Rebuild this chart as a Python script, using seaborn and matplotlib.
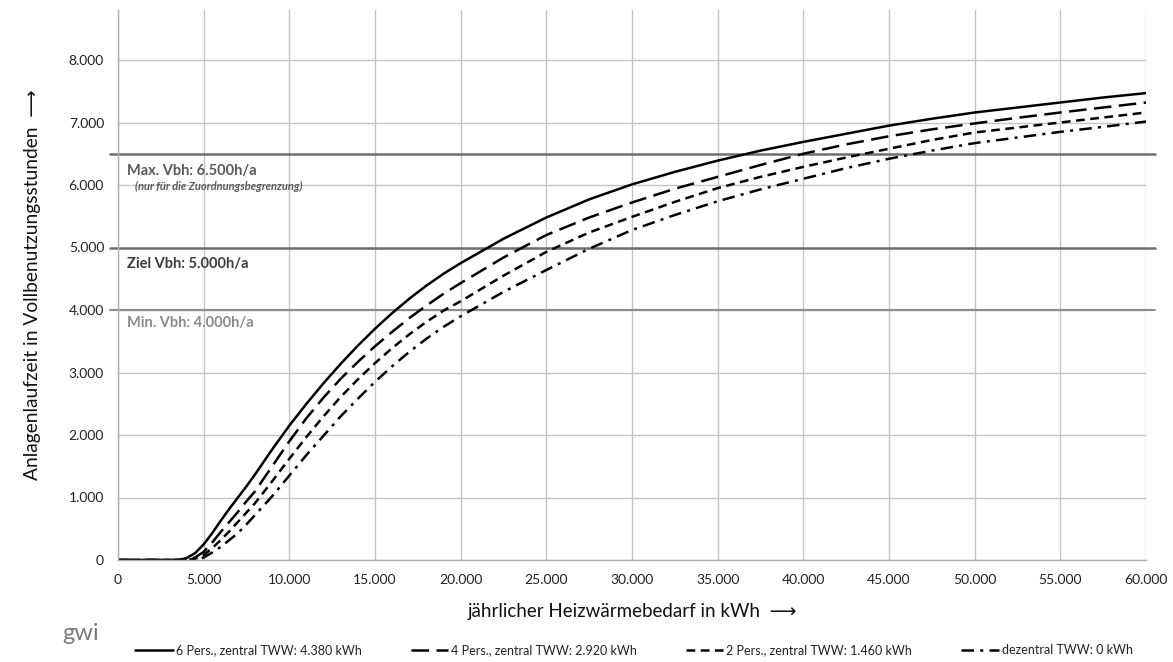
import numpy as np
import pandas as pd
import matplotlib
matplotlib.use("Agg")
import matplotlib.pyplot as plt
from matplotlib.ticker import MultipleLocator, FixedLocator, FuncFormatter
import seaborn as sns

# ---- data ----
x_kwh = [0, 3000, 3500, 4000, 4500, 5000, 5500, 6000, 6500, 7000, 7500, 8000,
         9000, 10000, 11000, 12000, 13000, 14000, 15000, 16000, 17000, 18000,
         19000, 20000, 22500, 25000, 27500, 30000, 32500, 35000, 37500, 40000,
         42500, 45000, 47500, 50000, 52500, 55000, 57500, 60000]
pers6 = [0, 0, 0, 30, 110, 250, 430, 630, 820, 1000, 1180, 1370,
         1770, 2150, 2500, 2830, 3140, 3430, 3700, 3950, 4180, 4390,
         4580, 4750, 5140, 5480, 5770, 6010, 6210, 6390, 6550, 6690,
         6820, 6950, 7060, 7160, 7240, 7320, 7400, 7470]
pers4 = [0, 0, 0, 0, 40, 130, 280, 450, 610, 770, 940, 1100,
         1500, 1900, 2270, 2600, 2900, 3170, 3420, 3650, 3870, 4070,
         4260, 4430, 4840, 5200, 5480, 5720, 5940, 6130, 6320, 6500,
         6650, 6780, 6890, 6985, 7075, 7160, 7240, 7320]
pers2 = [0, 0, 0, 0, 20, 80, 190, 320, 460, 610, 760, 910,
         1260, 1620, 1970, 2300, 2610, 2890, 3150, 3390, 3610, 3810,
         3990, 4140, 4550, 4930, 5240, 5490, 5730, 5950, 6130, 6290,
         6440, 6580, 6720, 6840, 6920, 7000, 7080, 7160]
dezentral = [0, 0, 0, 0, 0, 40, 120, 210, 320, 430, 570, 720,
             1020, 1350, 1680, 1990, 2300, 2580, 2850, 3100, 3330, 3540,
             3730, 3900, 4290, 4640, 4980, 5280, 5520, 5740, 5930, 6100,
             6270, 6420, 6550, 6670, 6760, 6850, 6930, 7015]

series_names = ["6 Pers., zentral TWW: 4.380 kWh",
                "4 Pers., zentral TWW: 2.920 kWh",
                "2 Pers., zentral TWW: 1.460 kWh",
                "dezentral TWW: 0 kWh"]

ref_values = [6500, 5000, 4000]
ref_labels = ["Max. Vbh: 6.500h/a", "Ziel Vbh: 5.000h/a", "Min. Vbh: 4.000h/a"]
ref_note = "(nur für die Zuordnungsbegrenzung)"

x_ticks = [0, 5000, 10000, 15000, 20000, 25000, 30000, 35000, 40000, 45000, 50000, 55000, 60000]
y_ticks = [0, 1000, 2000, 3000, 4000, 5000, 6000, 7000, 8000]

x_title = "jährlicher Heizwärmebedarf in kWh  \u27f6"
y_title = "Anlagenlaufzeit in Vollbenutzungsstunden  \u27f6"

# ---- build long-form table ----
frames = []
for name, vals in zip(series_names, [pers6, pers4, pers2, dezentral]):
    frames.append(pd.DataFrame({"x": x_kwh, "y": vals, "Serie": name}))
df = pd.concat(frames, ignore_index=True)

sns.set_theme(style="white")
plt.rcParams["font.family"] = ["Lato", "DejaVu Sans"]

fig = plt.figure(figsize=(11.73, 6.62), dpi=100)
ax = fig.add_axes([118 / 1173, 1 - 560 / 662, (1146 - 118) / 1173, (560 - 10) / 662])

dash_map = {
    series_names[0]: "",
    series_names[1]: (7, 3),
    series_names[2]: (3.5, 2.2),
    series_names[3]: (5, 2.5, 1.2, 2.5),
}
sns.lineplot(data=df, x="x", y="y", style="Serie", dashes=dash_map,
             color="black", linewidth=1.8, ax=ax, legend=True)

ax.set_xlim(0, 60000)
ax.set_ylim(0, 8800)

# grid
ax.xaxis.set_major_locator(FixedLocator(x_ticks))
ax.yaxis.set_major_locator(FixedLocator(y_ticks))
ax.xaxis.set_minor_locator(MultipleLocator(1000))
ax.yaxis.set_minor_locator(MultipleLocator(200))
fmt = FuncFormatter(lambda v, p: f"{int(v):,}".replace(",", "."))
ax.xaxis.set_major_formatter(fmt)
ax.yaxis.set_major_formatter(fmt)
ax.grid(True, which="major", color="#c4c4c4", linewidth=1.0)
ax.set_axisbelow(True)

for s in ["top", "right"]:
    ax.spines[s].set_visible(False)
for s in ["left", "bottom"]:
    ax.spines[s].set_color("#b0b0b0")
    ax.spines[s].set_linewidth(1.0)

ax.tick_params(axis="both", which="major", length=5, width=1, color="#b0b0b0",
               direction="out", labelsize=10, labelcolor="#222222", pad=5)
ax.tick_params(axis="both", which="minor", length=4, width=1, color="#b0b0b0",
               direction="in")

# reference lines (extend a little beyond the plot area)
ref_colors = ["#6e6e6e", "#6e6e6e", "#8c8c8c"]
ref_widths = [1.8, 1.8, 1.5]
for v, c, w in zip(ref_values, ref_colors, ref_widths):
    ax.plot([-450, 60500], [v, v], color=c, linewidth=w, clip_on=False, zorder=1.5)

text_colors = ["#5a5a5a", "#3c3c3c", "#8a8a8a"]
text_offsets = [-270, -270, -200]
for v, lab, c, off in zip(ref_values, ref_labels, text_colors, text_offsets):
    ax.text(500, v + off, lab, color=c, fontsize=10.5, fontweight="bold",
            va="center", ha="left")
ax.text(1000, ref_values[0] - 520, ref_note, color="#5a5a5a", fontsize=8,
        fontstyle="italic", fontweight="bold", va="center", ha="left")

ax.set_xlabel(x_title, fontsize=13.5, color="#111111", labelpad=12)
ax.set_ylabel(y_title, fontsize=13.8, color="#111111", labelpad=20)

# legend along the bottom
handles, labels = ax.get_legend_handles_labels()
ax.get_legend().remove()
fig.legend(handles, labels, loc="center", bbox_to_anchor=(634 / 1173, 1 - 650 / 662),
           ncol=4, frameon=False, fontsize=9, handlelength=3.0, handletextpad=0.25,
           columnspacing=3.9, labelcolor="#222222")

# logo text
fig.text(62 / 1173, 1 - 633 / 662, "gwi", fontsize=17, color="#7a7a7a",
         ha="left", va="center")

fig.savefig("out.png", dpi=100)
